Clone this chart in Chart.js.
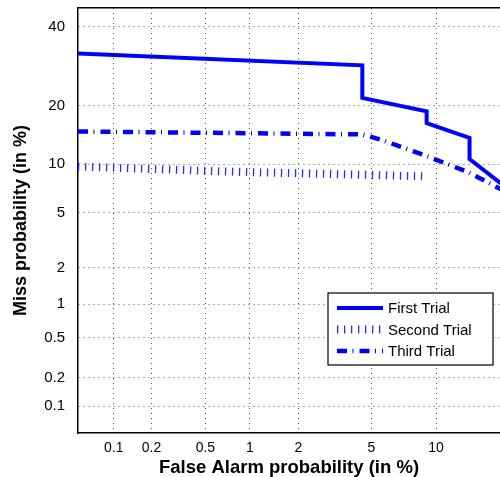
<!DOCTYPE html>
<html>
<head>
<meta charset="utf-8">
<script src="https://cdn.jsdelivr.net/npm/chart.js@4"></script>
<style>
  html, body { margin: 0; padding: 0; background: #fff; }
  #wrap { width: 500px; height: 477px; overflow: hidden; }
</style>
</head>
<body>
<div id="wrap"><canvas id="det" width="500" height="477"></canvas></div>
<script>
// tick labels, in %
const xTicks = [0.1, 0.2, 0.5, 1, 2, 5, 10, 20, 40];
const yTicks = [0.1, 0.2, 0.5, 1, 2, 5, 10, 20, 40];
const seriesNames = ['First Trial', 'Second Trial', 'Third Trial'];

// false alarm / miss probabilities in %
const firstFa    = [0.05, 4.5, 4.5, 9.1, 9.1, 13.7, 13.7, 24];
const firstMiss  = [32.5, 29.4, 21.6, 18.8, 16.5, 13.9, 10.7, 5.0];
const secondFa   = [0.05, 1, 4.5, 9.2];
const secondMiss = [9.7, 9.0, 8.7, 8.5];
const thirdFa    = [0.05, 1, 4.5, 5.6, 8.8, 13.3, 15.9, 21];
const thirdMiss  = [15.0, 14.7, 14.5, 13.6, 11.3, 9.1, 7.9, 6.1];

// visible axis limits (in %)
const xRange = [0.05, 17.8];
const yRange = [0.05, 45.5];

// inverse normal cdf (Acklam), DET axes are normal deviate scaled
function probit(p) {
  const a = [-3.969683028665376e+01, 2.209460984245205e+02, -2.759285104469687e+02, 1.383577518672690e+02, -3.066479806614716e+01, 2.506628277459239e+00];
  const b = [-5.447609879822406e+01, 1.615858368580409e+02, -1.556989798598866e+02, 6.680131188771972e+01, -1.328068155288572e+01];
  const c = [-7.784894002430293e-03, -3.223964580411365e-01, -2.400758277161838e+00, -2.549732539343734e+00, 4.374664141464968e+00, 2.938163982698783e+00];
  const d = [7.784695709041462e-03, 3.224671290700398e-01, 2.445134137142996e+00, 3.754408661907416e+00];
  const plow = 0.02425;
  let q, r;
  if (p < plow) {
    q = Math.sqrt(-2 * Math.log(p));
    return (((((c[0]*q+c[1])*q+c[2])*q+c[3])*q+c[4])*q+c[5]) / ((((d[0]*q+d[1])*q+d[2])*q+d[3])*q+1);
  }
  if (p > 1 - plow) {
    q = Math.sqrt(-2 * Math.log(1 - p));
    return -(((((c[0]*q+c[1])*q+c[2])*q+c[3])*q+c[4])*q+c[5]) / ((((d[0]*q+d[1])*q+d[2])*q+d[3])*q+1);
  }
  q = p - 0.5; r = q * q;
  return (((((a[0]*r+a[1])*r+a[2])*r+a[3])*r+a[4])*r+a[5])*q / (((((b[0]*r+b[1])*r+b[2])*r+b[3])*r+b[4])*r+1);
}
const pct = v => probit(v / 100);
const toPoints = (fa, miss) => fa.map((v, i) => ({ x: pct(v), y: pct(miss[i]) }));

const shownX = xTicks.filter(v => v >= xRange[0] && v <= xRange[1]);
const shownY = yTicks.filter(v => v >= yRange[0] && v <= yRange[1]);

const fam = '"Liberation Sans", Arial, sans-serif';

// no auto padding from tick labels, the axes box is fixed
const noPad = s => { s.paddingTop = 0; s.paddingBottom = 0; s.paddingLeft = 0; s.paddingRight = 0; };

// legend box drawn inside the axes, matlab style
const boxLegend = {
  id: 'boxLegend',
  afterDatasetsDraw(chart) {
    const ctx = chart.ctx;
    const bx = 328, by = 293, bw = 165, bh = 72;
    ctx.save();
    ctx.fillStyle = '#fff';
    ctx.fillRect(bx, by, bw, bh);
    ctx.lineWidth = 1.2;
    ctx.strokeStyle = '#000';
    ctx.strokeRect(bx, by, bw, bh);
    const rows = [308, 329.5, 351];
    chart.data.datasets.forEach((ds, i) => {
      ctx.save();
      ctx.lineCap = 'butt';
      ctx.setLineDash(ds.borderDash || []);
      ctx.lineWidth = ds.borderWidth;
      ctx.strokeStyle = ds.borderColor;
      ctx.beginPath();
      ctx.moveTo(bx + 9, rows[i]);
      ctx.lineTo(bx + 55, rows[i]);
      ctx.stroke();
      ctx.restore();
      ctx.fillStyle = '#000';
      ctx.font = '15px ' + fam;
      ctx.textBaseline = 'middle';
      ctx.fillText(ds.label, bx + 60, rows[i] + 1);
    });
    ctx.restore();
  }
};

new Chart(document.getElementById('det'), {
  type: 'line',
  data: {
    datasets: [{
      label: seriesNames[0],
      data: toPoints(firstFa, firstMiss),
      borderColor: '#0000ff',
      borderWidth: 4,
      pointRadius: 0,
      tension: 0
    }, {
      label: seriesNames[1],
      data: toPoints(secondFa, secondMiss),
      borderColor: '#2a2aff',
      borderWidth: 8,
      borderDash: [1.3, 5.7],
      pointRadius: 0,
      tension: 0
    }, {
      label: seriesNames[2],
      data: toPoints(thirdFa, thirdMiss),
      borderColor: '#0000ff',
      borderWidth: 4.5,
      borderDash: [10, 5.5, 1, 6],
      pointRadius: 0,
      tension: 0
    }]
  },
  options: {
    responsive: false,
    animation: false,
    layout: { padding: 0 },
    plugins: {
      legend: { display: false },
      tooltip: { enabled: false }
    },
    scales: {
      x: {
        type: 'linear',
        position: 'bottom',
        min: pct(xRange[0]),
        max: pct(xRange[1]),
        afterBuildTicks: s => { s.ticks = shownX.map(v => ({ value: pct(v) })); },
        afterFit: s => { s.height = 44; noPad(s); },
        ticks: {
          autoSkip: false,
          maxRotation: 0,
          padding: 7,
          color: '#000',
          font: { family: fam, size: 14 },
          callback: (v, i) => String(shownX[i])
        },
        grid: { color: '#555', lineWidth: 1, drawTicks: false },
        border: { display: true, color: '#000', width: 1.5, dash: [1, 4] },
        title: {
          display: true,
          text: 'False Alarm probability (in %)',
          color: '#000',
          font: { family: fam, size: 18.5, weight: 'bold', lineHeight: 1 },
          padding: { top: 0, bottom: 0 }
        }
      },
      x2: {
        type: 'linear',
        position: 'top',
        min: pct(xRange[0]),
        max: pct(xRange[1]),
        afterFit: s => { s.height = 8; noPad(s); },
        ticks: { display: false },
        grid: { display: false, drawTicks: false },
        border: { display: true, color: '#000', width: 1.5 }
      },
      y: {
        type: 'linear',
        min: pct(yRange[0]),
        max: pct(yRange[1]),
        afterBuildTicks: s => { s.ticks = shownY.map(v => ({ value: pct(v) })); },
        afterFit: s => { s.width = 78; noPad(s); },
        ticks: {
          autoSkip: false,
          padding: 13,
          color: '#000',
          font: { family: fam, size: 15 },
          callback: (v, i) => String(shownY[i])
        },
        grid: { color: '#555', lineWidth: 1, drawTicks: false },
        border: { display: true, color: '#000', width: 1.5, dash: [1, 4] },
        title: {
          display: true,
          text: 'Miss probability (in %)',
          color: '#000',
          font: { family: fam, size: 18, weight: 'bold', lineHeight: 1 },
          padding: { top: 12, bottom: 0 }
        }
      }
    }
  },
  plugins: [boxLegend]
});
</script>
</body>
</html>
